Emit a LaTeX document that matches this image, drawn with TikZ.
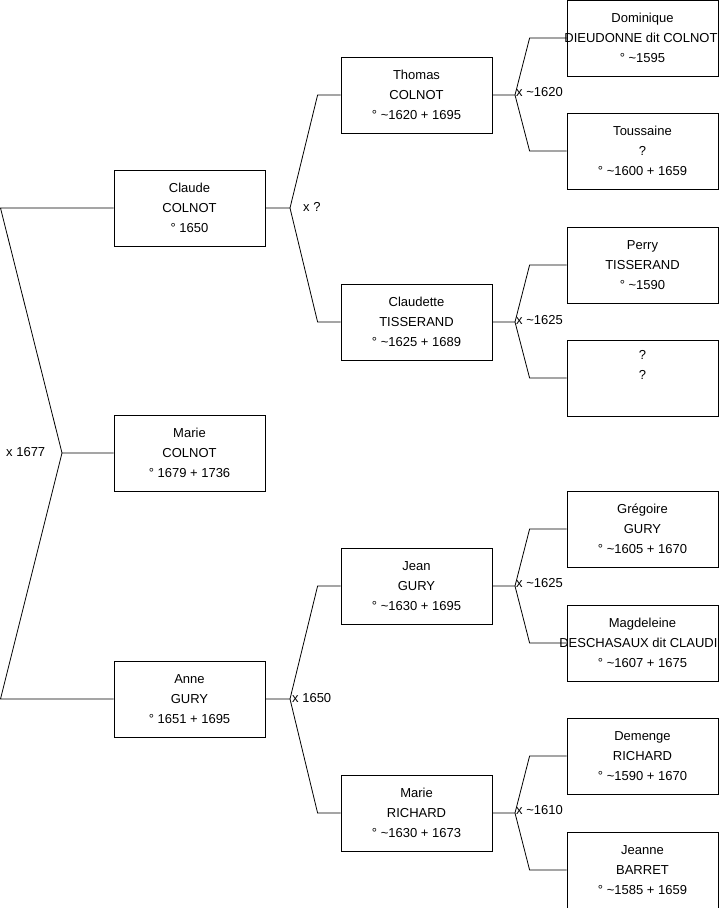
\documentclass[tikz,border=0pt]{standalone}
\usepackage{fontspec}
\setmainfont{Liberation Sans}
\usetikzlibrary{positioning}

\begin{document}
\begin{tikzpicture}[x=1pt, y=-1pt,
    person/.style={draw, line width=0.8pt, minimum width=151pt, minimum height=76pt,
                   inner sep=0pt, align=center, font=\fontsize{13}{20}\selectfont},
    link/.style={line width=0.8pt},
    union/.style={anchor=west, inner sep=0pt, font=\fontsize{13}{15}\selectfont}]
  \useasboundingbox (0,0) rectangle (719,908);

  % generation 1
  \node[person] (claude) at (189.5,208) {Claude\\COLNOT\\° 1650};
  \node[person] (marie)  at (189.5,453) {Marie\\COLNOT\\° 1679 + 1736};
  \node[person] (anne)   at (189.5,699) {Anne\\GURY\\° 1651 + 1695};

  % generation 2
  \node[person] (thomas)    at (416.5,95)  {Thomas\\COLNOT\\° \textasciitilde1620 + 1695};
  \node[person] (claudette) at (416.5,322) {Claudette\\TISSERAND\\° \textasciitilde1625 + 1689};
  \node[person] (jean)      at (416.5,586) {Jean\\GURY\\° \textasciitilde1630 + 1695};
  \node[person] (marier)    at (416.5,813) {Marie\\RICHARD\\° \textasciitilde1630 + 1673};

  % generation 3 (long names run past the box)
  \node[person] (dominique)  at (642.5,38)  {Dominique\\\makebox[150pt][r]{DIEUDONNE dit COLNOT}\\° \textasciitilde1595};
  \node[person] (toussaine)  at (642.5,151) {Toussaine\\?\\° \textasciitilde1600 + 1659};
  \node[person] (perry)      at (642.5,265) {Perry\\TISSERAND\\° \textasciitilde1590};
  \node[person] (unknown)    at (642.5,378) {?\\?\\\strut};
  \node[person] (gregoire)   at (642.5,529) {Grégoire\\GURY\\° \textasciitilde1605 + 1670};
  \node[person] (magdeleine) at (642.5,643) {Magdeleine\\\makebox[150pt][r]{DESCHASAUX dit CLAUDI}\\° \textasciitilde1607 + 1675};
  \node[person] (demenge)    at (642.5,756) {Demenge\\RICHARD\\° \textasciitilde1590 + 1670};
  \node[person] (jeanne)     at (642.5,870) {Jeanne\\BARRET\\° \textasciitilde1585 + 1659};

  % parents of Marie
  \coordinate (mfork) at (62,453);
  \draw[link] (claude.west) -- (0.5,208) -- (mfork) -- (marie.west);
  \draw[link] (mfork) -- (0.5,699) -- (anne.west);
  \node[union] (u1) at (6,452) {x 1677};

  % parents of Claude
  \coordinate (cfork) at (290,208);
  \draw[link] (claude.east) -- (cfork) -- ([xshift=-23pt]thomas.west) -- (thomas.west);
  \draw[link] (cfork) -- ([xshift=-23pt]claudette.west) -- (claudette.west);
  \node[union] (u2) at (303,207) {x ?};

  % parents of Anne
  \coordinate (afork) at (290,699);
  \draw[link] (anne.east) -- (afork) -- ([xshift=-23pt]jean.west) -- (jean.west);
  \draw[link] (afork) -- ([xshift=-23pt]marier.west) -- (marier.west);
  \node[union] (u3) at (292,698) {x 1650};

  % parents of Thomas
  \coordinate (tfork) at (515,95);
  \draw[link] (thomas.east) -- (tfork) -- ([xshift=-37pt]dominique.west) -- (dominique.west);
  \draw[link] (tfork) -- ([xshift=-37pt]toussaine.west) -- (toussaine.west);
  \node[union] (u4) at (516,92) {x \textasciitilde1620};

  % parents of Claudette
  \coordinate (clfork) at (515,322);
  \draw[link] (claudette.east) -- (clfork) -- ([xshift=-37pt]perry.west) -- (perry.west);
  \draw[link] (clfork) -- ([xshift=-37pt]unknown.west) -- (unknown.west);
  \node[union] (u5) at (516,320) {x \textasciitilde1625};

  % parents of Jean
  \coordinate (jfork) at (515,586);
  \draw[link] (jean.east) -- (jfork) -- ([xshift=-37pt]gregoire.west) -- (gregoire.west);
  \draw[link] (jfork) -- ([xshift=-37pt]magdeleine.west) -- (magdeleine.west);
  \node[union] (u6) at (516,583) {x \textasciitilde1625};

  % parents of Marie Richard
  \coordinate (mrfork) at (515,813);
  \draw[link] (marier.east) -- (mrfork) -- ([xshift=-37pt]demenge.west) -- (demenge.west);
  \draw[link] (mrfork) -- ([xshift=-37pt]jeanne.west) -- (jeanne.west);
  \node[union] (u7) at (516,810) {x \textasciitilde1610};
\end{tikzpicture}
\end{document}
